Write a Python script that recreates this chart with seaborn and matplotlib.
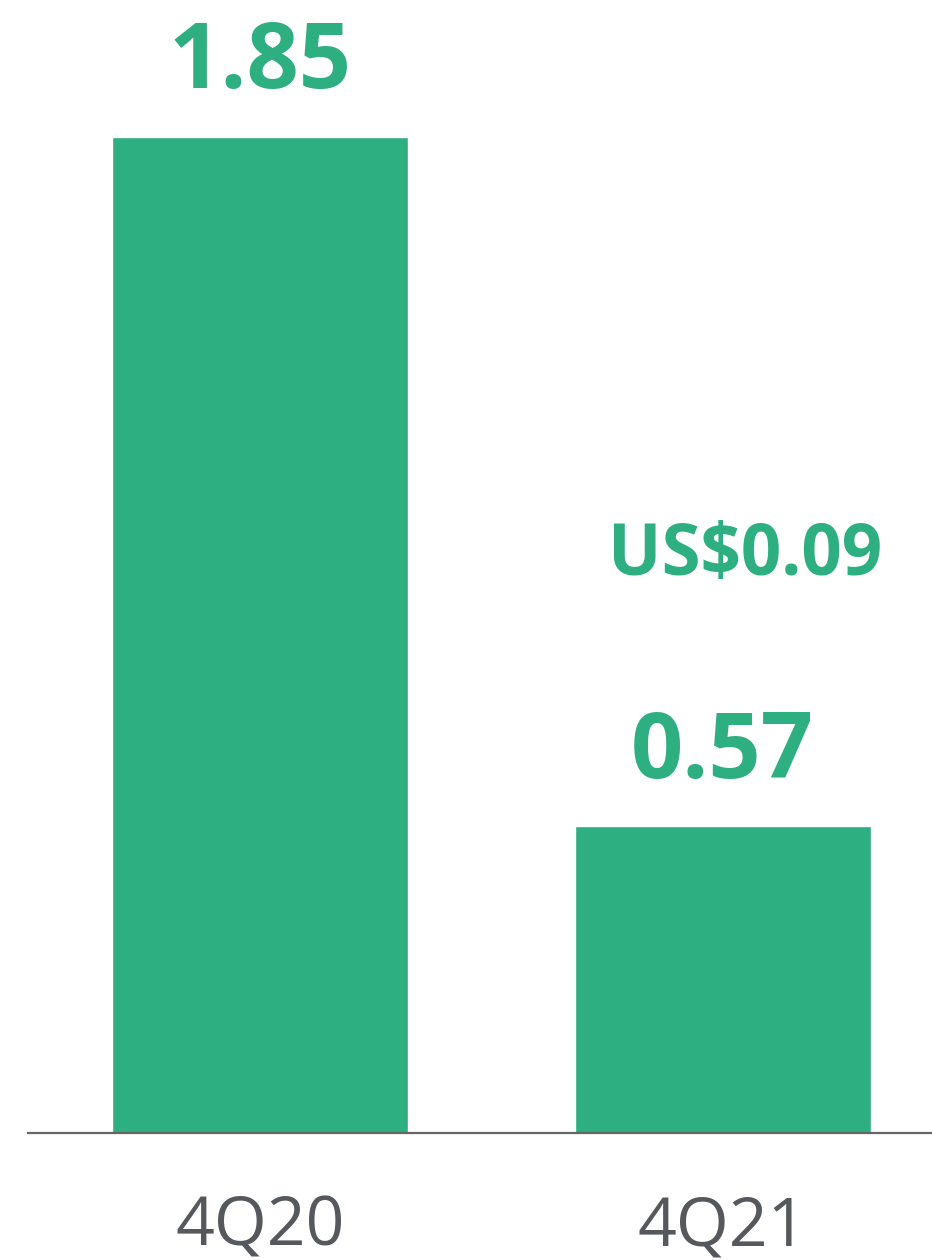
import matplotlib
matplotlib.use("Agg")
import matplotlib.pyplot as plt
import seaborn as sns
import pandas as pd

quarters = ["4Q20", "4Q21"]
values = [1.85, 0.57]
value_labels = ["1.85", "0.57"]
extra_label = "US$0.09"

sns.set_theme(style="white")
plt.rcParams['font.family'] = ['Open Sans', 'DejaVu Sans']

GREEN = "#2EAF82"
GRAY = "#55585C"

df = pd.DataFrame({"quarter": quarters, "value": values})

fig = plt.figure(figsize=(9.32, 12.6), dpi=100)
ax = fig.add_axes([28/932, 127/1260, 904/932, 1133/1260])

sns.barplot(data=df, x="quarter", y="value", color=GREEN, saturation=1,
            width=0.64, ax=ax)

ax.set_ylim(0, 1.85 * 1133 / 996)
ax.set_xlim(-0.502, 1.453)
ax.set_xlabel("")
ax.set_ylabel("")
ax.set_yticks([])

for s in ["top", "left", "right"]:
    ax.spines[s].set_visible(False)
ax.spines["bottom"].set_color("#666666")
ax.spines["bottom"].set_linewidth(1.6)

ax.tick_params(axis="x", length=0, pad=44, labelsize=49, labelcolor=GRAY)

for i, (v, lab) in enumerate(zip(values, value_labels)):
    ax.annotate(lab, xy=(i, v), xytext=(0, 35), textcoords="offset points",
                ha="center", va="baseline", fontsize=66, fontweight="bold",
                color=GREEN)

ax.annotate(extra_label, xy=(1, values[1]), xytext=(16.5, 181),
            textcoords="offset points", ha="center", va="baseline",
            fontsize=51, fontweight="bold", color=GREEN)

fig.savefig("out.png", dpi=100)
